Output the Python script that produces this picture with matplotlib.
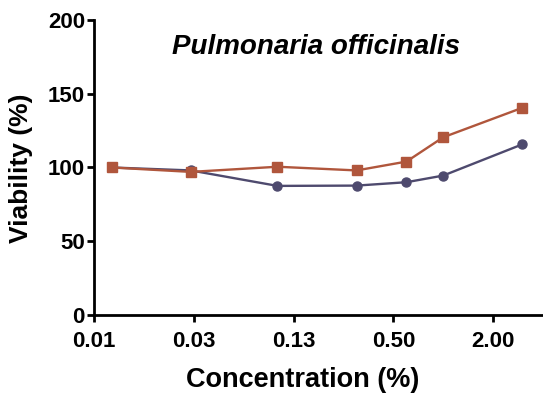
import numpy as np
import matplotlib.pyplot as plt
from matplotlib.ticker import FixedLocator, FixedFormatter, NullLocator

plt.rcParams['font.family'] = ['Liberation Sans', 'DejaVu Sans']
plt.rcParams['font.weight'] = 'bold'

# data
concentration = [0.01, 0.03, 0.1, 0.3, 0.6, 1.0, 3.0]
viability_red = [100, 97, 100.5, 98, 104, 120.5, 140.5]
viability_blue = [100, 98, 87.5, 87.7, 90, 94.5, 115.7]
xtick_vals = [0.0078125, 0.03125, 0.125, 0.5, 2.0]
xtick_labels = ["0.01", "0.03", "0.13", "0.50", "2.00"]
ytick_vals = [0, 50, 100, 150, 200]

red = "#B0563C"
blue = "#4E4A6E"

fig = plt.figure(figsize=(5.43, 3.95), dpi=100)
ax = fig.add_axes([0.173, 0.203, 0.827, 0.746])

ax.plot(concentration, viability_blue, color=blue, lw=1.7, marker="o", ms=6.5, zorder=3)
ax.plot(concentration, viability_red, color=red, lw=1.7, marker="s", ms=6.5, zorder=4)

ax.set_xscale("log")
ax.set_xlim(0.0078125, 4.0)
ax.set_ylim(0, 200)
ax.xaxis.set_major_locator(FixedLocator(xtick_vals))
ax.xaxis.set_major_formatter(FixedFormatter(xtick_labels))
ax.xaxis.set_minor_locator(NullLocator())
ax.set_yticks(ytick_vals)

for s in ["top", "right"]:
    ax.spines[s].set_visible(False)
for s in ["left", "bottom"]:
    ax.spines[s].set_linewidth(2.0)
ax.tick_params(width=2.0, length=5, labelsize=16)
ax.tick_params(axis="x", pad=6.5)
ax.tick_params(axis="y", pad=1.5)

ax.set_xlabel("Concentration (%)", fontsize=19.5, fontweight="bold")
ax.xaxis.set_label_coords(0.465, -0.178)
ax.set_ylabel("Viability (%)", fontsize=19, fontweight="bold")
ax.yaxis.set_label_coords(-0.136, 0.497)
ax.text(0.494, 0.908, "Pulmonaria officinalis", transform=ax.transAxes,
        fontsize=20, fontweight="bold", style="italic", ha="center", va="center")

fig.savefig("out.png", dpi=100)
